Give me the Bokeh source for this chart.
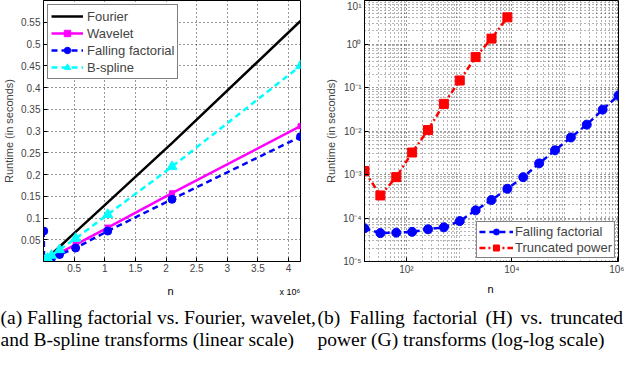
from bokeh.plotting import figure
from bokeh.models import Range1d, FixedTicker, Legend, LegendItem
from bokeh.layouts import row, column
from bokeh.core.properties import value
from bokeh.embed import file_html
from bokeh.resources import INLINE

# ---------------- data: left panel (linear scale), n in units of 10^6 ----------------
n_lin = [0.004096, 0.008192, 0.016384, 0.032768, 0.065536, 0.131072,
         0.262144, 0.524288, 1.048576, 2.097152, 4.194304]
fourier = [0.0005, 0.001, 0.002, 0.004, 0.0085, 0.017, 0.034, 0.068, 0.136, 0.272, 0.553]
wavelet = [0.0003, 0.0006, 0.0012, 0.0025, 0.005, 0.010, 0.020, 0.039, 0.078, 0.157, 0.311]
falling_lin = [0.070, 0.004, 0.001, 0.002, 0.004, 0.008, 0.016, 0.031, 0.070, 0.143, 0.287]
bspline = [0.0005, 0.001, 0.002, 0.0035, 0.007, 0.014, 0.027, 0.053, 0.108, 0.218, 0.450]
lin_xticks = [0.5, 1, 1.5, 2, 2.5, 3, 3.5, 4]
lin_xlabels = ["0.5", "1", "1.5", "2", "2.5", "3", "3.5", "4"]
lin_yticks = [0.05, 0.1, 0.15, 0.2, 0.25, 0.3, 0.35, 0.4, 0.45, 0.5, 0.55]
lin_ylabels = ["0.05", "0.1", "0.15", "0.2", "0.25", "0.3", "0.35", "0.4", "0.45", "0.5", "0.55"]

# ---------------- data: right panel (log-log scale) ----------------
n_log = [16, 32, 64, 128, 256, 512, 1024, 2048, 4096, 8192, 16384, 32768,
         65536, 131072, 262144, 524288, 1048576]
falling_log = [5.8e-5, 4.5e-5, 4.6e-5, 4.8e-5, 5.5e-5, 6.1e-5, 8.5e-5, 1.5e-4, 2.6e-4,
               4.7e-4, 8.7e-4, 1.8e-3, 3.6e-3, 7.1e-3, 1.4e-2, 3.1e-2, 6.6e-2]
n_trunc = [16, 32, 64, 128, 256, 512, 1024, 2048, 4096, 8192]
trunc_log = [1.2e-3, 3.3e-4, 8.7e-4, 3.2e-3, 1.05e-2, 4.2e-2, 0.145, 0.50, 1.33, 4.1]
log_xticks = [1e2, 1e4, 1e6]
log_xlabels = ["10²", "10⁴", "10⁶"]
log_yticks = [1e-5, 1e-4, 1e-3, 1e-2, 1e-1, 1e0, 1e1]
log_ylabels = ["10⁻⁵", "10⁻⁴", "10⁻³", "10⁻²", "10⁻¹", "10⁰", "10¹"]

# ---------------- texts below the plots ----------------
x_axis_names = ["n", "n"]
x_multiplier = "x 10⁶"
cap_a = ["(a) Falling factorial vs. Fourier, wavelet,", "and B-spline transforms (linear scale)"]
cap_b1_words = ["(b)", "Falling", "factorial", "(H)", "vs.", "truncated"]
cap_b2 = "power (G) transforms (log-log scale)"

FONT = "Liberation Sans"
SERIF = "Liberation Serif"
CAP_SIZE = "19.5px"


def style_axes(p):
    for ax in (p.xaxis, p.yaxis):
        ax.major_label_text_font = FONT
        ax.major_label_text_font_size = "10px"
        ax.axis_label_text_font = FONT
        ax.axis_label_text_font_size = "11px"
        ax.axis_label_text_font_style = "normal"
        ax.major_tick_in = 4
        ax.major_tick_out = 0
        ax.minor_tick_in = 0
        ax.minor_tick_out = 0
        ax.axis_line_color = "black"
        ax.axis_label_standoff = 3
    p.xaxis.major_label_standoff = 2
    p.yaxis.major_label_standoff = 3
    p.outline_line_color = "black"
    p.outline_line_width = 1
    p.outline_line_alpha = 1
    p.grid.grid_line_color = "black"
    p.grid.grid_line_dash = "1 3"
    p.grid.grid_line_alpha = 0.8


ROW_H = 280

# ---------------- left figure ----------------
p1 = figure(width=312, height=ROW_H, output_backend="svg", toolbar_location=None,
            title=None,
            x_range=Range1d(0, n_lin[-1]), y_range=Range1d(0, 0.6),
            min_border_left=40, min_border_right=12, min_border_top=0, min_border_bottom=14)
p1.xaxis.ticker = FixedTicker(ticks=lin_xticks)
p1.yaxis.ticker = FixedTicker(ticks=lin_yticks)
p1.xaxis.major_label_overrides = dict(zip(lin_xticks, lin_xlabels))
p1.yaxis.major_label_overrides = dict(zip(lin_yticks, lin_ylabels))
p1.yaxis.axis_label = "Runtime (in seconds)"
style_axes(p1)

r_f = p1.line(n_lin, fourier, line_color="black", line_width=2.5)
r_wl = p1.line(n_lin, wavelet, line_color="#ff00ff", line_width=2.5)
r_ws = p1.scatter(n_lin, wavelet, marker="square", size=5, color="#ff00ff")
r_fl = p1.line(n_lin, falling_lin, line_color="#0000ff", line_width=2.5, line_dash="6 4")
r_fs = p1.scatter(n_lin, falling_lin, marker="circle", size=8, color="#0000ff")
r_bl = p1.line(n_lin, bspline, line_color="#00ffff", line_width=2.5, line_dash="6 4")
r_bs = p1.scatter(n_lin, bspline, marker="triangle", size=10, color="#00ffff")

leg1 = Legend(items=[
    LegendItem(label="Fourier", renderers=[r_f]),
    LegendItem(label="Wavelet", renderers=[r_wl, r_ws]),
    LegendItem(label="Falling factorial", renderers=[r_fl, r_fs]),
    LegendItem(label="B-spline", renderers=[r_bl, r_bs]),
], location="top_left")
leg1.label_text_font = FONT
leg1.label_text_font_size = "13px"
leg1.glyph_width = 32
leg1.glyph_height = 16
leg1.label_height = 16
leg1.label_standoff = 4
leg1.spacing = 1
leg1.padding = 3
leg1.margin = 4
leg1.border_line_color = "black"
leg1.border_line_width = 1
leg1.background_fill_alpha = 1
p1.add_layout(leg1)

# ---------------- right figure ----------------
x_minor = [m * 10 ** k for k in range(1, 6) for m in range(1, 10) if (m * 10 ** k) not in log_xticks]
y_minor = [m * 10.0 ** k for k in range(-5, 1) for m in range(2, 10)]

p2 = figure(width=312, height=ROW_H, output_backend="svg", toolbar_location=None,
            title=None, x_axis_type="log", y_axis_type="log",
            x_range=Range1d(n_log[0], n_log[-1]), y_range=Range1d(1e-5, 10),
            min_border_left=52, min_border_right=6, min_border_top=0, min_border_bottom=19)
p2.xaxis.ticker = FixedTicker(ticks=log_xticks, minor_ticks=x_minor)
p2.yaxis.ticker = FixedTicker(ticks=log_yticks, minor_ticks=y_minor)
p2.xaxis.major_label_overrides = dict(zip(log_xticks, log_xlabels))
p2.yaxis.major_label_overrides = dict(zip(log_yticks, log_ylabels))
p2.yaxis.axis_label = "Runtime (in seconds)"
style_axes(p2)
p2.grid.minor_grid_line_color = "black"
p2.grid.minor_grid_line_dash = "1 3"
p2.grid.minor_grid_line_alpha = 0.6

r2_fl = p2.line(n_log, falling_log, line_color="#0000ff", line_width=2.5, line_dash="6 4")
r2_fs = p2.scatter(n_log, falling_log, marker="circle", size=9, color="#0000ff")
r2_tl = p2.line(n_trunc, trunc_log, line_color="#ff0000", line_width=2.5, line_dash="6 3 2 3")
r2_ts = p2.scatter(n_trunc, trunc_log, marker="square", size=9, color="#ff0000")

leg2 = Legend(items=[
    LegendItem(label="Falling factorial", renderers=[r2_fl, r2_fs]),
    LegendItem(label="Truncated power", renderers=[r2_tl, r2_ts]),
], location="bottom_right")
leg2.label_text_font = FONT
leg2.label_text_font_size = "13px"
leg2.glyph_width = 34
leg2.glyph_height = 15
leg2.label_height = 15
leg2.label_standoff = 2
leg2.spacing = 1
leg2.padding = 2
leg2.margin = 3
leg2.border_line_color = "black"
leg2.border_line_width = 1
leg2.background_fill_alpha = 1
p2.add_layout(leg2)

# ---------------- strip with axis names and captions (pixel coordinates) ----------------
SW, SH = 624, 72
pc = figure(width=SW, height=SH, output_backend="svg", toolbar_location=None, title=None,
            x_range=Range1d(0, SW), y_range=Range1d(0, SH),
            x_axis_location=None, y_axis_location=None,
            min_border_left=0, min_border_right=0, min_border_top=0, min_border_bottom=0,
            outline_line_color=None)
pc.grid.visible = False

pc.text(x=[170, 490], y=[62, 64], text=x_axis_names, text_font=value(FONT),
        text_font_size="11px", text_baseline="middle", text_align="center", text_color="black")
pc.text(x=[279], y=[61], text=[x_multiplier], text_font=value(FONT),
        text_font_size="9px", text_baseline="middle", text_align="left", text_color="black")

line1_y, line2_y = 35, 13
pc.text(x=[0, 0], y=[line1_y, line2_y], text=cap_a,
        text_font=value(SERIF), text_font_size=CAP_SIZE, text_baseline="alphabetic",
        text_color="black")
b1_x = [317, 349, 412, 485, 520, 550]
pc.text(x=b1_x, y=[line1_y] * len(b1_x), text=cap_b1_words,
        text_font=value(SERIF), text_font_size=CAP_SIZE, text_baseline="alphabetic",
        text_color="black")
pc.text(x=[317], y=[line2_y], text=[cap_b2],
        text_font=value(SERIF), text_font_size=CAP_SIZE, text_baseline="alphabetic",
        text_color="black")

layout = column(row(p1, p2), pc)
open("out.html", "w").write(file_html(layout, INLINE))
